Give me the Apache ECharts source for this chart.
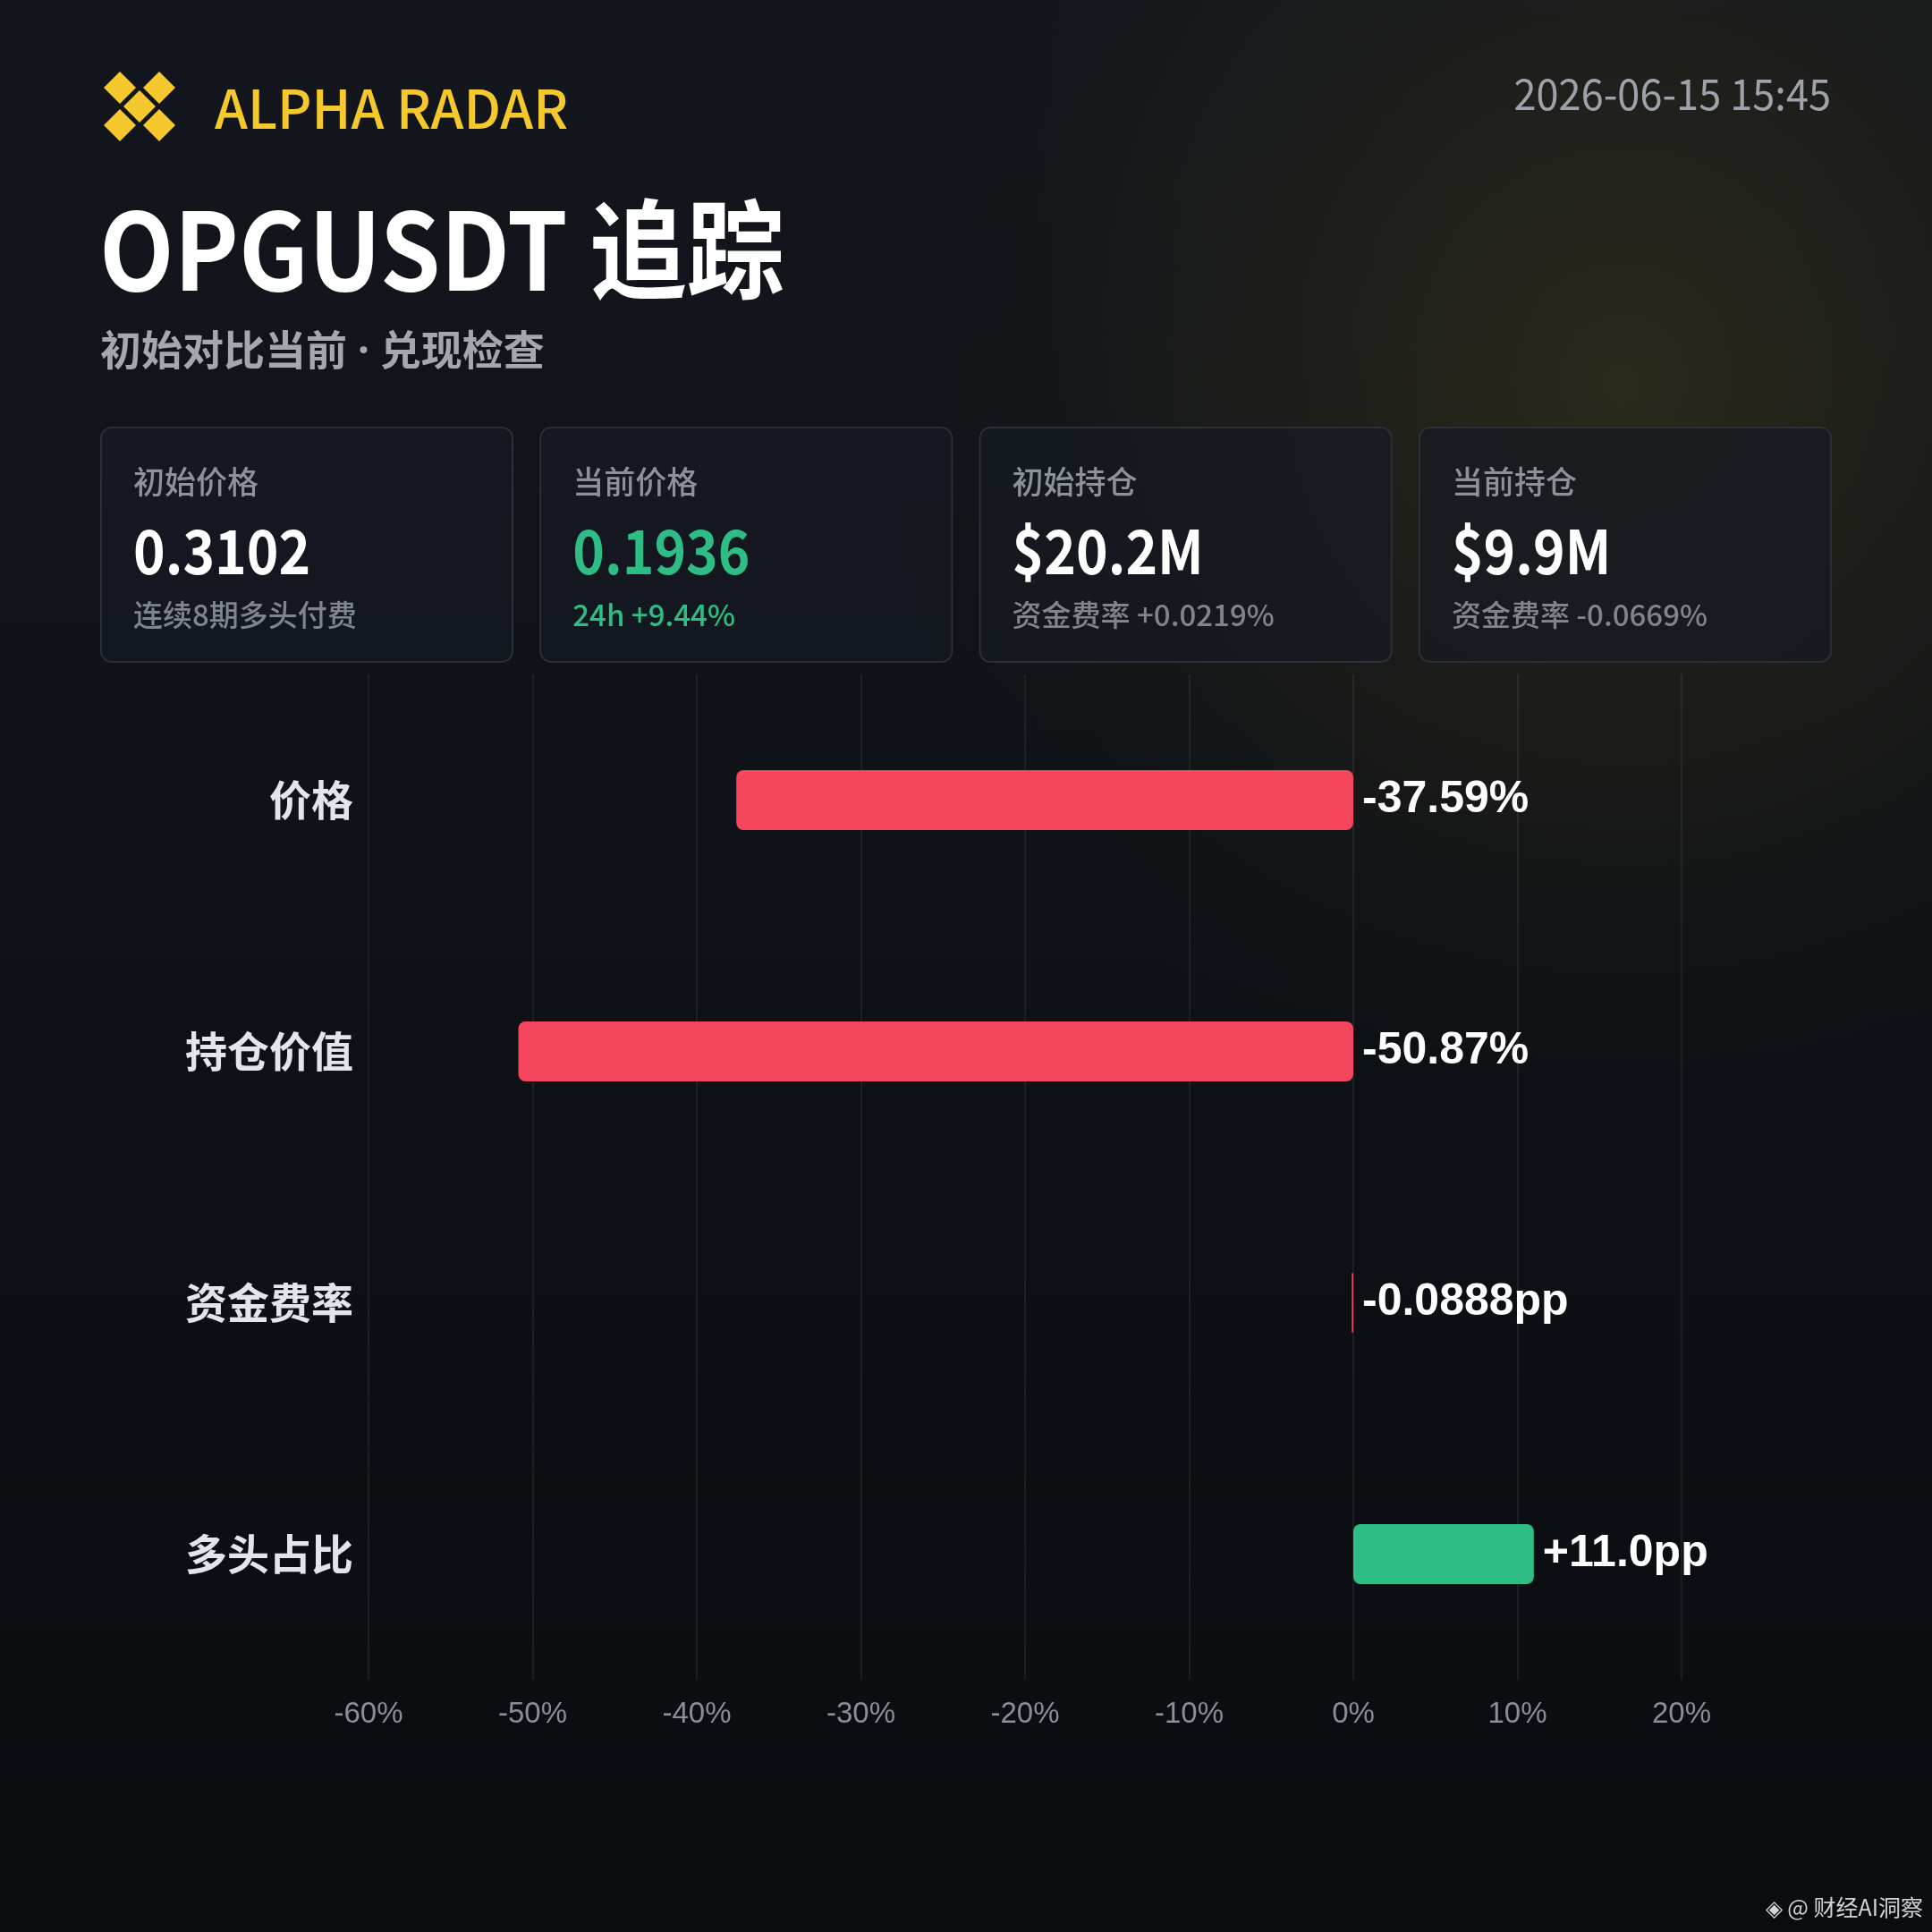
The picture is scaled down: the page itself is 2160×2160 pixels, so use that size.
<!DOCTYPE html>
<html>
<head>
<meta charset="utf-8">
<script src="https://cdn.jsdelivr.net/npm/echarts@6/dist/echarts.min.js"></script>
<style>
html,body{margin:0;padding:0;background:#0c0f14;}
#c{width:2160px;height:2160px;}
</style>
</head>
<body>
<div id="c"></div>
<script>
// ---- data ----
const brand = 'ALPHA RADAR';
const stamp = '2026-06-15 15:45';
const title = 'OPGUSDT 追踪';
const subtitle = '初始对比当前 · 兑现检查';
const cardTitles = ['初始价格', '当前价格', '初始持仓', '当前持仓'];
const cardValues = ['0.3102', '0.1936', '$20.2M', '$9.9M'];
const cardSubs = ['连续8期多头付费', '24h +9.44%', '资金费率 +0.0219%', '资金费率 -0.0669%'];
const cardAccent = [false, true, false, false];
const categories = ['价格', '持仓价值', '资金费率', '多头占比'];
const values = [-37.59, -50.87, -0.0888, 11.0];
const valueLabels = ['-37.59%', '-50.87%', '-0.0888pp', '+11.0pp'];
const axisMin = -60, axisMax = 20, axisStep = 10;
const watermark = '@ 财经AI洞察';

// ---- styles ----
const CJK = "'Noto Sans CJK SC', 'Noto Sans', sans-serif";
const RED = '#F6465D', GREEN = '#2EBD85', YELLOW = '#F5C82E';

const chart = echarts.init(document.getElementById('c'), null, {renderer: 'canvas'});

const graphics = [];
// background glow
graphics.push({
  type: 'rect', silent: true, z: -10,
  shape: {x: 0, y: 0, width: 2160, height: 2160},
  style: {fill: {type: 'radial', x: 0.84, y: 0.2, r: 0.42, colorStops: [
    {offset: 0, color: 'rgba(125,110,35,0.24)'},
    {offset: 0.55, color: 'rgba(95,85,30,0.10)'},
    {offset: 1, color: 'rgba(0,0,0,0)'}]}}
});
// logo diamonds
const dpos = [[134,98],[178,98],[156,119],[134,140],[178,140]];
dpos.forEach(p => {
  const h = 18;
  graphics.push({type: 'polygon', shape: {points: [[p[0],p[1]-h],[p[0]+h,p[1]],[p[0],p[1]+h],[p[0]-h,p[1]]]}, style: {fill: YELLOW}});
});
graphics.push({type: 'text', x: 240, y: 121, scaleX: 0.99, style: {text: brand, fill: YELLOW, font: `500 60px ${CJK}`, verticalAlign: 'middle'}});
graphics.push({type: 'text', x: 2047, y: 105, scaleX: 0.94, style: {text: stamp, fill: '#9ea3ab', font: `400 48px ${CJK}`, align: 'right', verticalAlign: 'middle'}});
graphics.push({type: 'text', x: 111, y: 279, scaleX: 0.905, style: {text: title, fill: '#ffffff', font: `700 120px ${CJK}`, verticalAlign: 'middle'}});
graphics.push({type: 'text', x: 112, y: 395, style: {text: subtitle, fill: '#a3a7ae', font: `700 46px 'Noto Sans', 'Noto Sans CJK SC', sans-serif`, verticalAlign: 'middle'}});

// cards
const cardW = 460, cardGap = 31.3, cardX0 = 113, cardY = 478, cardH = 262;
cardTitles.forEach((t, i) => {
  const x = cardX0 + i * (cardW + cardGap);
  graphics.push({type: 'rect', shape: {x: x, y: cardY, width: cardW, height: cardH, r: 12},
    style: {fill: 'rgba(22,26,33,0.75)', stroke: '#2b2f36', lineWidth: 2}});
  graphics.push({type: 'text', x: x + 36, y: 539, style: {text: t, fill: '#8d9199', font: `500 35px ${CJK}`, verticalAlign: 'middle'}});
  graphics.push({type: 'text', x: x + 36, y: 616, scaleX: 0.89, style: {text: cardValues[i], fill: cardAccent[i] ? GREEN : '#ffffff', font: `700 68px ${CJK}`, verticalAlign: 'middle'}});
  graphics.push({type: 'text', x: x + 36, y: 687, style: {text: cardSubs[i], fill: cardAccent[i] ? GREEN : '#80858d', font: `500 33px ${CJK}`, verticalAlign: 'middle'}});
});
graphics.push({type: 'text', x: 2150, y: 2132, style: {text: '◈ ' + watermark, fill: '#d0d3d8', font: `400 25px ${CJK}`, align: 'right', verticalAlign: 'middle'}});

chart.setOption({
  backgroundColor: {type: 'linear', x: 0, y: 0, x2: 0, y2: 1, colorStops: [
    {offset: 0, color: '#13161c'}, {offset: 0.5, color: '#0e1116'}, {offset: 1, color: '#0a0c10'}]},
  animation: false,
  graphic: graphics,
  grid: {left: 412, right: 280, top: 754, bottom: 282, containLabel: false},
  xAxis: {
    type: 'value', min: axisMin, max: axisMax, interval: axisStep,
    axisLine: {show: false}, axisTick: {show: false},
    splitLine: {show: true, lineStyle: {color: 'rgba(255,255,255,0.09)', width: 1.5}},
    axisLabel: {formatter: '{value}%', color: '#8a8f97', fontSize: 33, margin: 22,
      fontFamily: "'Liberation Sans Narrow', 'Liberation Sans', Arial, sans-serif"}
  },
  yAxis: {
    type: 'category', data: categories, inverse: true,
    axisLine: {show: false}, axisTick: {show: false}, splitLine: {show: false},
    axisLabel: {color: '#e2e5e9', fontSize: 47, fontWeight: 'bold', fontFamily: CJK, margin: 17}
  },
  series: [{
    type: 'bar', barWidth: 67,
    data: values.map((v, i) => ({value: v, itemStyle: {color: v < 0 ? RED : GREEN, borderRadius: 8}})),
    label: {show: true, position: 'right', distance: 10, color: '#ffffff', fontSize: 50, fontWeight: 'bold',
      fontFamily: "'Liberation Sans', Arial, sans-serif",
      formatter: p => valueLabels[p.dataIndex]}
  }]
});
</script>
</body>
</html>
